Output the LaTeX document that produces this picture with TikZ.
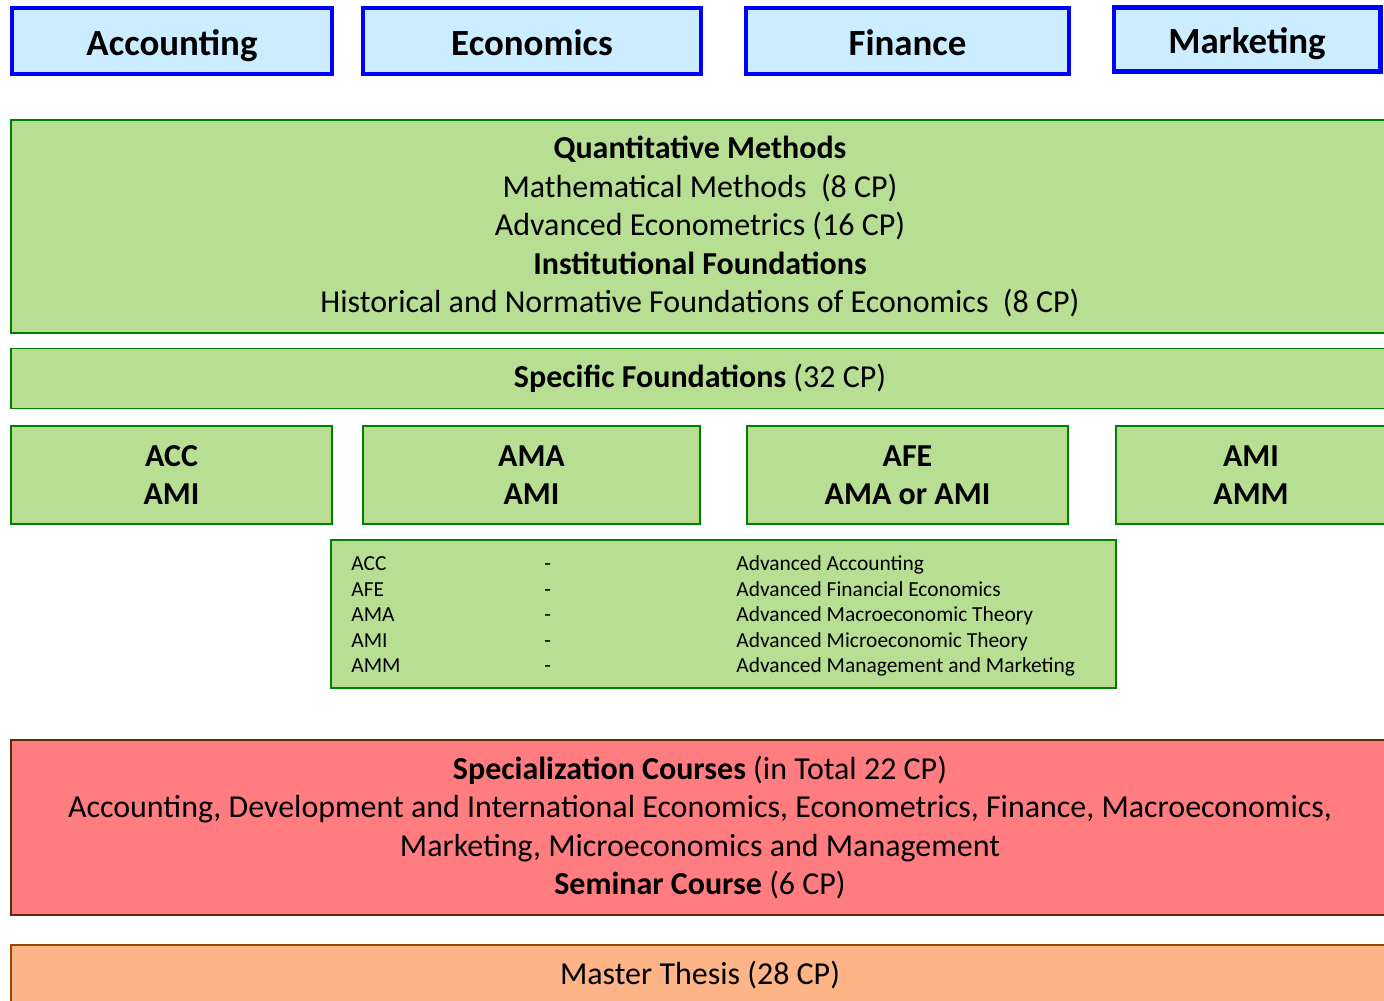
\documentclass[tikz,border=0pt]{standalone}
\usepackage{fontspec}
\setmainfont{Carlito}
\definecolor{headfill}{HTML}{CCECFF}
\definecolor{headdraw}{HTML}{0000FF}
\definecolor{basefill}{HTML}{B8DE94}
\definecolor{basedraw}{HTML}{008000}
\definecolor{specfill}{HTML}{FF7C80}
\definecolor{specdraw}{HTML}{5C2A0A}
\definecolor{thesisfill}{HTML}{FDB486}
\definecolor{thesisdraw}{HTML}{984807}
\tikzset{
  fieldbox/.style={draw=headdraw,fill=headfill,line width=2.3pt,inner sep=0pt,
    minimum height=1.31cm,text height=18.5pt,text depth=2.4pt,
    font=\fontsize{21}{25}\selectfont\bfseries},
  basebox/.style={draw=basedraw,fill=basefill,line width=1.1pt,inner sep=0pt,align=center,
    font=\fontsize{18.2}{21.9}\selectfont},
  trackbox/.style={basebox,minimum height=1.96cm,font=\fontsize{18.2}{21.9}\selectfont\bfseries},
  specbox/.style={basebox,draw=specdraw,fill=specfill},
  thesisbox/.style={basebox,draw=thesisdraw,fill=thesisfill},
  legtext/.style={anchor=base west,inner sep=0pt,font=\fontsize{12.2}{14}\selectfont}
}

\begin{document}
\begin{tikzpicture}[x=0.02cm,y=-0.02cm]
    \useasboundingbox (0,0) rectangle (1384,1001);
    \clip (0,0) rectangle (1384,1001);
    % fields
    \node[fieldbox,minimum width=6.41cm] (acc) at (172,41) {Accounting};
    \node[fieldbox,minimum width=6.76cm] (eco) at (532,41) {Economics};
    \node[fieldbox,minimum width=6.46cm] (fin) at (907.5,41) {Finance};
    \node[fieldbox,minimum width=5.34cm,minimum height=1.28cm] (mkt) at (1247,39.5) {Marketing};
    % foundations
    \node[basebox,minimum width=27.56cm,minimum height=4.26cm] (qm) at (700,226.5)
      {\textbf{Quantitative Methods}\\Mathematical Methods~ (8 CP)\\Advanced Econometrics (16 CP)\\
       \textbf{Institutional Foundations}\\Historical and Normative Foundations of Economics~ (8 CP)};
    \node[basebox,minimum width=27.56cm,minimum height=1.2cm] (sf) at (700,378.5)
      {\textbf{Specific Foundations} (32 CP)};
    \node[trackbox,minimum width=6.42cm] (tacc) at (171.5,475) {ACC\\AMI};
    \node[trackbox,minimum width=6.74cm] (teco) at (531.5,475) {AMA\\AMI};
    \node[trackbox,minimum width=6.42cm] (tfin) at (907.5,475) {AFE\\AMA or AMI};
    \node[trackbox,minimum width=5.4cm] (tmkt) at (1251,475) {AMI\\AMM};
    % legend
    \node[basebox,minimum width=15.7cm,minimum height=2.96cm] (leg) at (723.5,614) {};
    \foreach \abbr/\name [count=\i] in {ACC/Advanced Accounting,AFE/Advanced Financial Economics,
        AMA/Advanced Macroeconomic Theory,AMI/Advanced Microeconomic Theory,
        AMM/Advanced Management and Marketing} {
        \node[legtext] (abbr\i) at (351,{545+25.5*\i}) {\abbr};
        \node[legtext] (dash\i) at (544,{545+25.5*\i}) {-};
        \node[legtext] (name\i) at (736,{545+25.5*\i}) {\name};
      }
    % specialization and thesis
    \node[specbox,minimum width=27.56cm,minimum height=3.5cm] (spec) at (700,827.5)
      {\textbf{Specialization Courses} (in Total 22 CP)\\
       Accounting, Development and International Economics, Econometrics, Finance, Macroeconomics,\\
       Marketing, Microeconomics and Management\\\textbf{Seminar Course} (6 CP)};
    \node[thesisbox,minimum width=27.56cm,minimum height=1.2cm] (thesis) at (700,975)
      {Master Thesis (28 CP)};
  \end{tikzpicture}
\end{document}
